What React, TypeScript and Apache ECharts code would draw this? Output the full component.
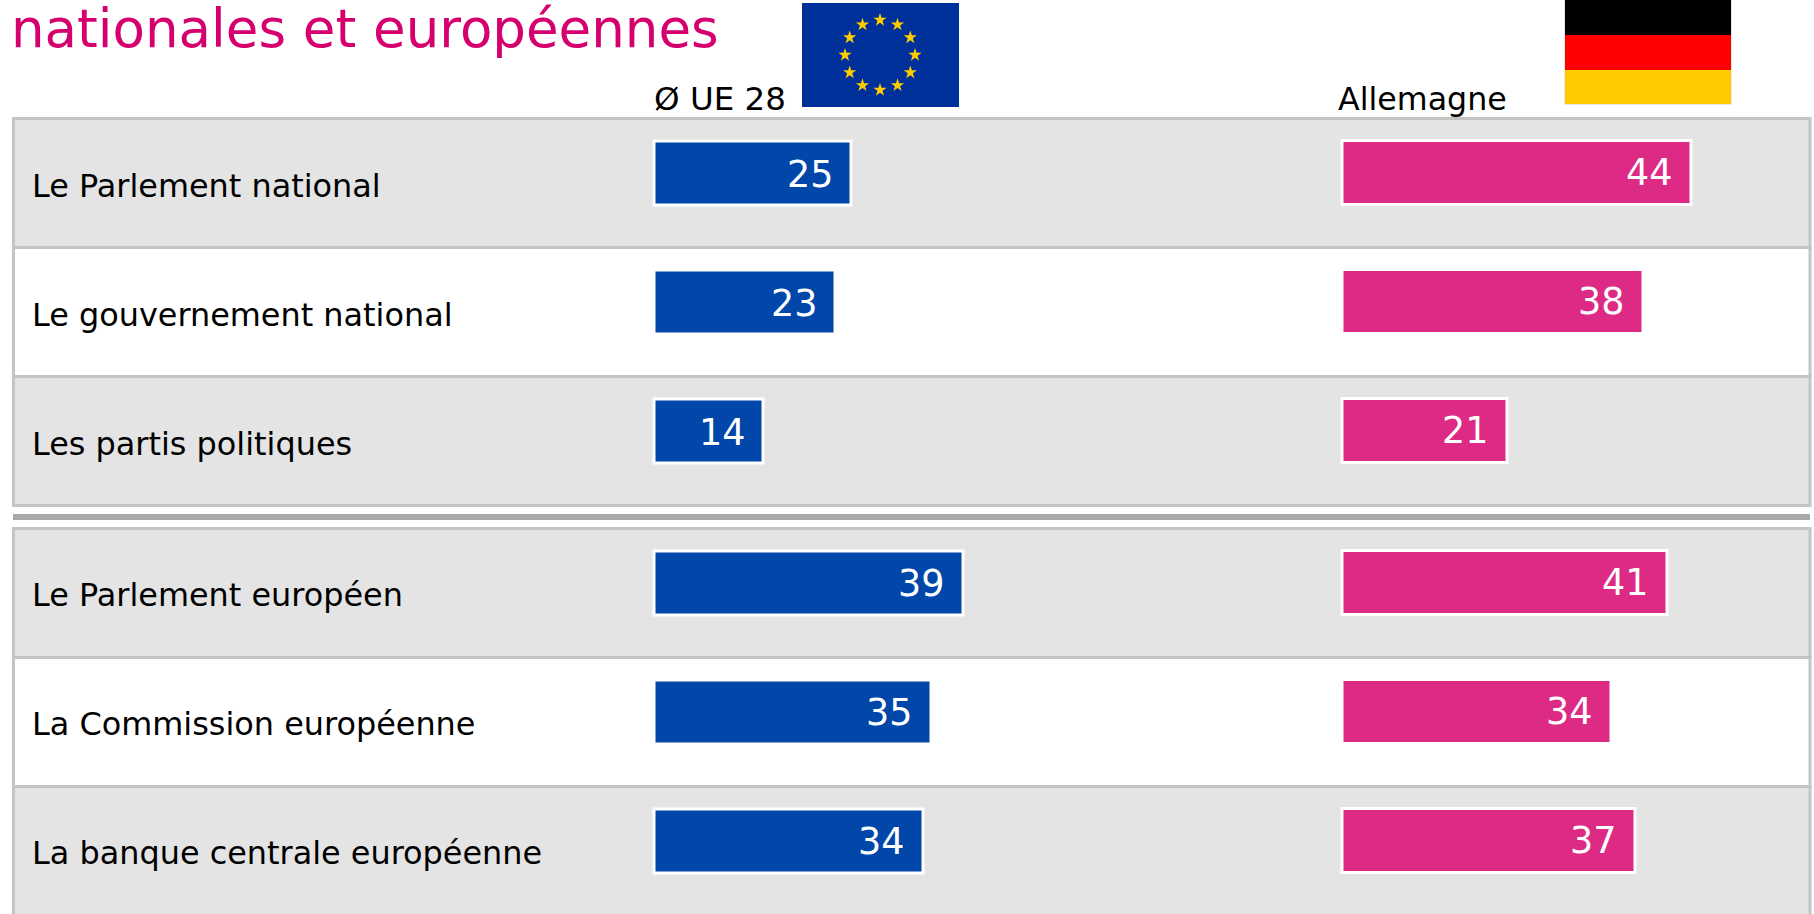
import React, { useEffect, useRef } from "react";
import * as echarts from "echarts";

const titleText = "nationales et européennes";
const euHeader = "Ø UE 28";
const deHeader = "Allemagne";
const nationalCategories = ["Le Parlement national", "Le gouvernement national", "Les partis politiques"];
const europeanCategories = ["Le Parlement européen", "La Commission européenne", "La banque centrale européenne"];
const euNational = [25, 23, 14];
const deNational = [44, 38, 21];
const euEuropean = [39, 35, 34];
const deEuropean = [41, 34, 37];

const FONT = '"DejaVu Sans", Verdana, sans-serif';
const BLUE = "#0047a9";
const PINK = "#dd2a85";
const ROW = 129;
const GRID_X = 400;

function starPoints(cx: number, cy: number, r: number) {
  const pts: number[][] = [];
  for (let i = 0; i < 10; i++) {
    const rad = i % 2 === 0 ? r : r * 0.382;
    const a = -Math.PI / 2 + (i * Math.PI) / 5;
    pts.push([cx + rad * Math.cos(a), cy + rad * Math.sin(a)]);
  }
  return pts;
}

function rowRect(y: number, fill: string) {
  return {
    type: "rect",
    silent: true,
    shape: { x: 13.5, y, width: 1796.5, height: ROW },
    style: { fill, stroke: "#c4c4c4", lineWidth: 3 },
  };
}

function buildGraphic() {
  const els: any[] = [
    rowRect(118.5, "#e4e4e4"),
    rowRect(247.5, "#ffffff"),
    rowRect(376.5, "#e4e4e4"),
    { type: "rect", silent: true, shape: { x: 13, y: 514, width: 1797, height: 6 }, style: { fill: "#a9a9a9" } },
    rowRect(528.5, "#e4e4e4"),
    rowRect(657.5, "#ffffff"),
    rowRect(786.5, "#e4e4e4"),
    { type: "text", silent: true, style: { x: 11, y: 28, text: titleText, font: `53px ${FONT}`, fill: "#d5006d", verticalAlign: "middle" } },
    { type: "text", silent: true, style: { x: 654, y: 99, text: euHeader, font: `32.5px ${FONT}`, fill: "#000", verticalAlign: "middle" } },
    { type: "text", silent: true, style: { x: 1338, y: 99, text: deHeader, font: `31.7px ${FONT}`, fill: "#000", verticalAlign: "middle" } },
    { type: "rect", silent: true, shape: { x: 802, y: 3, width: 157, height: 104 }, style: { fill: "#00309a" } },
    { type: "rect", silent: true, shape: { x: 1564, y: -2, width: 168, height: 107 }, style: { fill: "#e8e8e8" } },
    { type: "rect", silent: true, shape: { x: 1565, y: 0, width: 166, height: 35 }, style: { fill: "#000000" } },
    { type: "rect", silent: true, shape: { x: 1565, y: 35, width: 166, height: 35 }, style: { fill: "#ff0000" } },
    { type: "rect", silent: true, shape: { x: 1565, y: 70, width: 166, height: 34 }, style: { fill: "#ffcc00" } },
  ];
  for (let i = 0; i < 12; i++) {
    const a = (i * Math.PI) / 6;
    els.push({
      type: "polygon",
      silent: true,
      shape: { points: starPoints(880 + 35 * Math.sin(a), 55 - 35 * Math.cos(a), 7) },
      style: { fill: "#ffcc00" },
    });
  }
  return els;
}

function barSeries(idx: number, values: number[], color: string, nudge: number[]) {
  return {
    type: "bar",
    xAxisIndex: idx,
    yAxisIndex: idx,
    data: values,
    barWidth: 67,
    z: 3,
    itemStyle: { color, borderColor: "#ffffff", borderWidth: 3 },
    label: {
      show: true,
      position: "insideRight",
      distance: 20,
      offset: nudge,
      color: "#ffffff",
      fontFamily: FONT,
      fontSize: 36.5,
    },
  };
}

function yAxis(idx: number, cats: string[], showLabel: boolean, lineHeight: number) {
  return {
    type: "category",
    gridIndex: idx,
    data: cats,
    inverse: true,
    axisLine: { show: false },
    axisTick: { show: false },
    splitLine: { show: false },
    axisLabel: {
      show: showLabel,
      align: "left",
      verticalAlign: "top",
      lineHeight,
      margin: 620.5,
      color: "#000",
      fontFamily: FONT,
      fontSize: 31.9,
    },
  };
}

function xAxis(idx: number) {
  return {
    type: "value",
    gridIndex: idx,
    min: 0,
    max: 50,
    show: false,
    splitLine: { show: false },
  };
}

export default function App() {
  const ref = useRef<HTMLDivElement>(null);
  useEffect(() => {
    if (!ref.current) return;
    const chart = echarts.init(ref.current, undefined, { renderer: "svg" });
    chart.setOption({
      animation: false,
      backgroundColor: "#ffffff",
      graphic: buildGraphic(),
      grid: [
        { left: 652.5, top: 108.5, width: GRID_X, height: ROW * 3 },
        { left: 1340.5, top: 108, width: GRID_X, height: ROW * 3 },
        { left: 652.5, top: 518.5, width: GRID_X, height: ROW * 3 },
        { left: 1340.5, top: 518, width: GRID_X, height: ROW * 3 },
      ],
      xAxis: [xAxis(0), xAxis(1), xAxis(2), xAxis(3)],
      yAxis: [
        yAxis(0, nationalCategories, true, 25),
        yAxis(1, nationalCategories, false, 25),
        yAxis(2, europeanCategories, true, 23.5),
        yAxis(3, europeanCategories, false, 25),
      ],
      series: [
        barSeries(0, euNational, BLUE, [1, 1]),
        barSeries(1, deNational, PINK, [0, 0]),
        barSeries(2, euEuropean, BLUE, [0, 0]),
        barSeries(3, deEuropean, PINK, [0, 0]),
      ],
    });
    return () => chart.dispose();
  }, []);
  return <div ref={ref} style={{ position: "fixed", left: 0, top: 0, width: 1814, height: 914 }} />;
}
